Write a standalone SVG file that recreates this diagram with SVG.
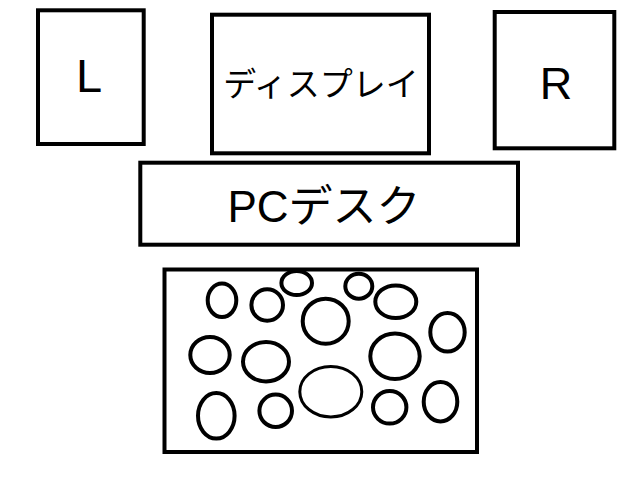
<svg xmlns="http://www.w3.org/2000/svg" width="640" height="480" viewBox="0 0 640 480">
<style>
.box{fill:#fff;stroke:#000;stroke-width:4}
.o{fill:none;stroke:#000;stroke-width:4}
.t{font-family:"Liberation Sans","Noto Sans CJK JP",sans-serif;fill:#000;text-anchor:middle}
</style>
<rect width="640" height="480" fill="#fff"/>
<g id="L">
<rect class="box" x="38" y="10.3" width="105.7" height="133.7"/>
<text class="t" x="89" y="91.5" font-size="47">L</text>
</g>
<g id="display">
<rect class="box" x="212" y="14.7" width="217" height="138.6"/>
<text class="t" x="321" y="96" font-size="33">ディスプレイ</text>
</g>
<g id="R">
<rect class="box" x="494.7" y="12" width="119.6" height="136.3"/>
<text class="t" x="556" y="98.5" font-size="45">R</text>
</g>
<g id="desk">
<rect class="box" x="140.3" y="162.7" width="377.7" height="82"/>
<text class="t" x="324" y="221.5" font-size="44">PCデスク</text>
</g>
<g id="area">
<rect class="box" x="164.5" y="269.5" width="312.5" height="182.5"/>
<ellipse class="o" cx="222" cy="300.3" rx="14.3" ry="16.7"/>
<ellipse class="o" cx="267.2" cy="305" rx="15.8" ry="15.7"/>
<ellipse class="o" cx="296.7" cy="283" rx="15.3" ry="12"/>
<ellipse class="o" cx="358.8" cy="286.2" rx="13.5" ry="12.5"/>
<ellipse class="o" cx="395.8" cy="301.7" rx="20.5" ry="16.3"/>
<ellipse class="o" cx="325.7" cy="321.2" rx="23" ry="22.5"/>
<ellipse class="o" cx="447.5" cy="332.3" rx="17.2" ry="19.3"/>
<ellipse class="o" cx="210" cy="355" rx="19.7" ry="18"/>
<ellipse class="o" cx="266" cy="361.7" rx="23" ry="19.7"/>
<ellipse class="o" cx="395" cy="356.3" rx="24.7" ry="22.7"/>
<ellipse class="o" cx="330.8" cy="391.7" rx="31" ry="25.2" style="stroke-width:3"/>
<ellipse class="o" cx="216.3" cy="415.8" rx="18.3" ry="22.8"/>
<ellipse class="o" cx="275.7" cy="410.8" rx="16.3" ry="16.2"/>
<ellipse class="o" cx="389.7" cy="407.3" rx="16.7" ry="16.3"/>
<ellipse class="o" cx="440.5" cy="401.7" rx="16.8" ry="19.7"/>
</g>
</svg>
